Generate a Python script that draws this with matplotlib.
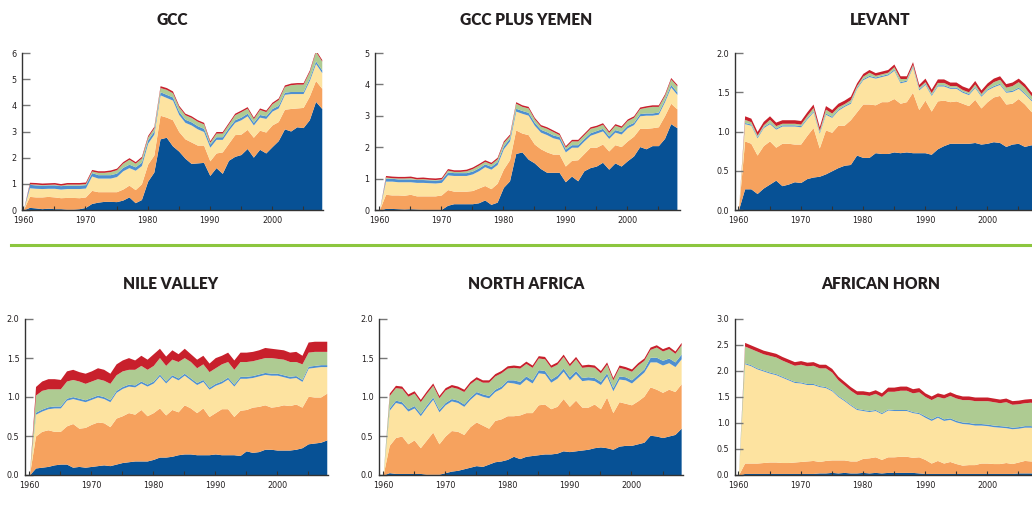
import matplotlib
matplotlib.use("Agg")
import matplotlib.pyplot as plt
from matplotlib.ticker import MultipleLocator, FixedLocator

W, H = 1032, 505
years = list(range(1960, 2009))

# ---------------- data (layer values, 1960..2008) ----------------
gcc_blue = [0, 0.10,0.08,0.05,0.07,0.05,0.05,0.03,0.03,0.05,0.10,
            0.25,0.30,0.33,0.33,0.32,0.38,0.50,0.28,0.40,1.10,
            1.45,2.72,2.78,2.45,2.25,1.98,1.78,1.80,1.82,1.32,
            1.62,1.40,1.90,2.05,2.12,2.35,2.02,2.32,2.18,2.42,
            2.65,3.10,3.02,3.18,3.15,3.45,4.15,3.88]
gcc_orange = [0, 0.42,0.42,0.45,0.45,0.45,0.42,0.45,0.45,0.42,0.40,
              0.50,0.40,0.37,0.37,0.38,0.42,0.45,0.50,0.60,0.65,
              0.65,0.90,0.77,1.00,0.75,0.74,0.82,0.68,0.66,0.56,
              0.56,0.82,0.65,0.83,0.78,0.73,0.76,0.73,0.80,0.83,
              0.73,0.75,0.86,0.72,0.77,0.90,0.80,0.77]
gcc_yellow = [0, 0.33,0.33,0.32,0.31,0.33,0.33,0.34,0.34,0.35,0.34,
              0.55,0.52,0.52,0.52,0.58,0.70,0.67,0.74,0.70,0.80,
              0.80,0.78,0.75,0.75,0.65,0.63,0.65,0.62,0.52,0.52,
              0.52,0.48,0.50,0.47,0.55,0.52,0.47,0.50,0.52,0.53,
              0.52,0.57,0.57,0.55,0.53,0.60,0.65,0.60]
gcc_lblue = [0, 0.13,0.13,0.13,0.13,0.13,0.13,0.13,0.13,0.13,0.13,
             0.13,0.13,0.13,0.13,0.13,0.13,0.13,0.13,0.13,0.13,
             0.12,0.12,0.12,0.12,0.12,0.12,0.12,0.12,0.12,0.12,
             0.10,0.10,0.10,0.10,0.10,0.10,0.10,0.10,0.10,0.10,
             0.10,0.08,0.08,0.08,0.08,0.09,0.10,0.10]
gcc_green = [0, 0.02,0.03,0.02,0.02,0.03,0.02,0.04,0.04,0.04,0.04,
             0.06,0.09,0.09,0.12,0.13,0.16,0.19,0.14,0.16,0.11,
             0.12,0.16,0.19,0.16,0.17,0.17,0.17,0.17,0.17,0.07,
             0.14,0.14,0.14,0.19,0.21,0.19,0.14,0.19,0.16,0.18,
             0.22,0.22,0.26,0.28,0.28,0.25,0.36,0.34]
gcc_red = [0, 0.06,0.06,0.06,0.06,0.06,0.06,0.06,0.06,0.06,0.06,
           0.06,0.06,0.06,0.06,0.06,0.06,0.06,0.06,0.06,0.06,
           0.06,0.07,0.07,0.07,0.06,0.06,0.06,0.06,0.06,0.06,
           0.06,0.06,0.06,0.06,0.06,0.06,0.06,0.06,0.06,0.06,
           0.06,0.06,0.06,0.06,0.06,0.06,0.06,0.06]

gy_blue = [0, 0.05,0.05,0.04,0.03,0.04,0.03,0.02,0.02,0.02,0.02,
           0.15,0.20,0.20,0.20,0.20,0.23,0.32,0.18,0.25,0.72,
           0.93,1.80,1.85,1.62,1.50,1.32,1.20,1.20,1.20,0.90,
           1.08,0.93,1.25,1.35,1.40,1.52,1.30,1.50,1.40,1.57,
           1.72,2.02,1.95,2.05,2.05,2.28,2.75,2.62]
gy_orange = [0, 0.45,0.43,0.44,0.44,0.46,0.42,0.43,0.43,0.43,0.46,
             0.50,0.40,0.40,0.40,0.42,0.47,0.46,0.50,0.60,0.58,
             0.67,0.75,0.60,0.78,0.60,0.63,0.65,0.58,0.58,0.50,
             0.50,0.67,0.55,0.65,0.60,0.58,0.58,0.58,0.62,0.63,
             0.63,0.58,0.65,0.57,0.60,0.72,0.65,0.60]
gy_yellow = [0, 0.42,0.44,0.42,0.43,0.40,0.43,0.43,0.42,0.41,0.40,
             0.47,0.50,0.50,0.50,0.53,0.55,0.60,0.62,0.60,0.65,
             0.60,0.60,0.63,0.62,0.60,0.53,0.55,0.52,0.47,0.45,
             0.42,0.40,0.40,0.38,0.45,0.42,0.40,0.40,0.40,0.42,
             0.37,0.40,0.42,0.40,0.40,0.45,0.52,0.46]
gy_lblue = [0, 0.09,0.09,0.09,0.09,0.09,0.09,0.09,0.09,0.09,0.09,
            0.09,0.09,0.09,0.09,0.09,0.09,0.09,0.09,0.09,0.09,
            0.09,0.09,0.09,0.09,0.09,0.09,0.09,0.09,0.09,0.09,
            0.08,0.08,0.08,0.08,0.08,0.08,0.08,0.08,0.08,0.08,
            0.07,0.07,0.07,0.07,0.07,0.07,0.08,0.08]
gy_green = [0, 0.04,0.02,0.03,0.03,0.04,0.02,0.03,0.02,0.02,0.02,
            0.06,0.04,0.04,0.06,0.08,0.09,0.08,0.08,0.09,0.11,
            0.08,0.16,0.13,0.14,0.11,0.10,0.11,0.11,0.06,0.06,
            0.12,0.12,0.12,0.14,0.12,0.13,0.11,0.14,0.13,0.15,
            0.16,0.16,0.18,0.21,0.18,0.13,0.17,0.19]
gy_red = [0, 0.05,0.05,0.05,0.05,0.05,0.05,0.05,0.05,0.05,0.05,
          0.05,0.05,0.05,0.05,0.05,0.05,0.05,0.05,0.05,0.05,
          0.05,0.05,0.05,0.05,0.05,0.05,0.05,0.05,0.05,0.05,
          0.05,0.05,0.05,0.05,0.05,0.05,0.05,0.05,0.05,0.05,
          0.05,0.05,0.05,0.05,0.05,0.05,0.05,0.05]

lev_blue = [0, 0.27,0.27,0.21,0.28,0.33,0.38,0.31,0.33,0.36,0.35,
            0.40,0.42,0.43,0.46,0.50,0.54,0.57,0.58,0.70,0.67,
            0.67,0.73,0.72,0.72,0.74,0.73,0.74,0.73,0.73,0.73,
            0.71,0.78,0.82,0.85,0.85,0.85,0.85,0.86,0.84,0.85,
            0.87,0.86,0.81,0.84,0.85,0.81,0.83,0.83]
lev_orange = [0, 0.61,0.58,0.49,0.54,0.55,0.42,0.54,0.52,0.48,0.49,
              0.55,0.63,0.36,0.56,0.49,0.54,0.51,0.57,0.55,0.68,
              0.68,0.61,0.66,0.66,0.68,0.63,0.64,0.77,0.55,0.67,
              0.55,0.61,0.58,0.53,0.54,0.51,0.48,0.55,0.46,0.53,
              0.57,0.60,0.54,0.52,0.57,0.54,0.43,0.37]
lev_yellow = [0, 0.22,0.23,0.22,0.23,0.22,0.23,0.22,0.22,0.23,0.22,
              0.21,0.20,0.19,0.20,0.19,0.19,0.24,0.21,0.30,0.31,
              0.35,0.34,0.32,0.34,0.36,0.26,0.26,0.32,0.25,0.20,
              0.20,0.19,0.18,0.17,0.16,0.14,0.14,0.15,0.15,0.15,
              0.13,0.14,0.15,0.15,0.13,0.13,0.14,0.13]
lev_lblue = [0, 0.015,0.015,0.015,0.015,0.015,0.015,0.015,0.015,0.015,0.015,
             0.015,0.015,0.015,0.015,0.015,0.015,0.015,0.015,0.015,0.015,
             0.015,0.015,0.015,0.015,0.015,0.015,0.015,0.015,0.015,0.015,
             0.015,0.015,0.015,0.015,0.015,0.015,0.015,0.015,0.015,0.015,
             0.015,0.015,0.015,0.015,0.015,0.015,0.015,0.015]
lev_green = [0, 0.04,0.03,0.02,0.02,0.04,0.03,0.02,0.02,0.02,0.02,
             0.03,0.04,0.02,0.05,0.04,0.03,0.02,0.03,0.02,0.03,
             0.04,0.02,0.02,0.02,0.03,0.04,0.02,0.02,0.02,0.02,
             0.02,0.03,0.03,0.02,0.02,0.02,0.02,0.03,0.02,0.03,
             0.05,0.05,0.05,0.06,0.07,0.07,0.05,0.05]
lev_red = [0, 0.045,0.045,0.045,0.045,0.045,0.045,0.045,0.045,0.045,0.045,
           0.045,0.045,0.045,0.045,0.045,0.045,0.045,0.045,0.035,0.035,
           0.035,0.035,0.035,0.035,0.035,0.035,0.035,0.035,0.035,0.045,
           0.045,0.045,0.045,0.045,0.045,0.045,0.045,0.045,0.045,0.045,
           0.045,0.045,0.045,0.045,0.045,0.045,0.045,0.045]

nile_blue = [0, 0.09,0.10,0.11,0.13,0.14,0.14,0.10,0.11,0.10,0.11,
             0.12,0.13,0.12,0.14,0.16,0.17,0.18,0.18,0.18,0.20,
             0.23,0.23,0.24,0.26,0.27,0.27,0.26,0.26,0.26,0.27,
             0.26,0.26,0.26,0.25,0.31,0.29,0.30,0.33,0.33,0.32,
             0.32,0.32,0.33,0.35,0.40,0.41,0.42,0.45]
nile_orange = [0, 0.41,0.46,0.47,0.43,0.42,0.49,0.56,0.49,0.51,0.54,
               0.56,0.54,0.50,0.59,0.60,0.63,0.60,0.66,0.58,0.60,
               0.63,0.54,0.60,0.55,0.63,0.59,0.54,0.60,0.49,0.53,
               0.59,0.59,0.49,0.58,0.53,0.58,0.58,0.57,0.54,0.56,
               0.58,0.57,0.58,0.52,0.61,0.59,0.58,0.60]
nile_yellow = [0, 0.28,0.26,0.27,0.30,0.30,0.33,0.32,0.36,0.33,0.32,
               0.32,0.31,0.32,0.33,0.35,0.34,0.35,0.34,0.38,0.38,
               0.41,0.41,0.42,0.41,0.38,0.36,0.36,0.34,0.35,0.35,
               0.33,0.38,0.39,0.41,0.40,0.38,0.39,0.39,0.41,0.40,
               0.36,0.35,0.34,0.33,0.36,0.38,0.39,0.34]
nile_lblue = [0, 0.025,0.025,0.025,0.025,0.025,0.025,0.025,0.025,0.025,0.025,
              0.025,0.025,0.025,0.025,0.025,0.025,0.025,0.025,0.025,0.025,
              0.025,0.025,0.025,0.025,0.025,0.025,0.025,0.025,0.025,0.025,
              0.025,0.025,0.025,0.025,0.025,0.025,0.025,0.025,0.025,0.025,
              0.025,0.025,0.025,0.025,0.025,0.025,0.025,0.025]
nile_green = [0, 0.22,0.24,0.23,0.22,0.22,0.22,0.22,0.22,0.21,0.21,
              0.21,0.21,0.21,0.20,0.20,0.19,0.20,0.20,0.19,0.20,
              0.21,0.20,0.20,0.21,0.20,0.21,0.19,0.20,0.20,0.20,
              0.22,0.20,0.19,0.19,0.19,0.19,0.19,0.19,0.20,0.19,
              0.20,0.19,0.18,0.20,0.18,0.18,0.17,0.17]
nile_red = [0, 0.11,0.12,0.13,0.13,0.12,0.13,0.13,0.12,0.13,0.13,
            0.14,0.14,0.13,0.14,0.14,0.15,0.12,0.13,0.13,0.15,
            0.12,0.12,0.12,0.10,0.12,0.10,0.11,0.11,0.11,0.13,
            0.11,0.12,0.12,0.12,0.12,0.12,0.12,0.13,0.12,0.12,
            0.12,0.12,0.13,0.11,0.13,0.13,0.13,0.13]

na_blue = [0, 0.03,0.02,0.02,0.02,0.02,0.02,0.01,0.01,0.01,0.03,
           0.05,0.06,0.08,0.10,0.12,0.11,0.14,0.17,0.18,0.20,
           0.24,0.21,0.24,0.25,0.26,0.27,0.27,0.28,0.31,0.30,
           0.31,0.32,0.33,0.35,0.36,0.35,0.33,0.37,0.38,0.38,
           0.40,0.42,0.51,0.50,0.48,0.50,0.52,0.60]
na_orange = [0, 0.35,0.46,0.48,0.38,0.43,0.33,0.44,0.54,0.39,0.47,
             0.52,0.50,0.44,0.52,0.56,0.53,0.46,0.53,0.54,0.56,
             0.52,0.56,0.56,0.55,0.64,0.64,0.58,0.60,0.67,0.58,
             0.65,0.55,0.54,0.56,0.49,0.65,0.47,0.57,0.54,0.52,
             0.55,0.59,0.62,0.60,0.58,0.60,0.55,0.57]
na_yellow = [0, 0.45,0.45,0.41,0.42,0.41,0.41,0.42,0.42,0.41,0.40,
             0.38,0.37,0.36,0.35,0.36,0.37,0.39,0.37,0.39,0.43,
             0.42,0.39,0.43,0.38,0.41,0.39,0.34,0.36,0.35,0.34,
             0.34,0.34,0.35,0.30,0.31,0.27,0.28,0.29,0.30,0.28,
             0.30,0.31,0.32,0.35,0.35,0.34,0.32,0.32]
na_lblue = [0, 0.03,0.03,0.03,0.03,0.03,0.03,0.03,0.03,0.03,0.03,
            0.03,0.03,0.03,0.03,0.03,0.03,0.03,0.03,0.03,0.03,
            0.04,0.04,0.04,0.04,0.04,0.04,0.04,0.04,0.04,0.04,
            0.04,0.04,0.04,0.04,0.04,0.04,0.04,0.04,0.04,0.04,
            0.04,0.04,0.06,0.06,0.06,0.06,0.06,0.06]
na_green = [0, 0.16,0.16,0.17,0.16,0.16,0.15,0.15,0.15,0.15,0.16,
            0.15,0.15,0.16,0.17,0.16,0.15,0.17,0.17,0.17,0.15,
            0.16,0.17,0.16,0.16,0.15,0.15,0.15,0.14,0.15,0.14,
            0.15,0.13,0.13,0.13,0.11,0.11,0.10,0.11,0.10,0.11,
            0.12,0.11,0.10,0.13,0.12,0.12,0.11,0.12]
na_red = [0, 0.03,0.03,0.03,0.03,0.03,0.03,0.03,0.03,0.03,0.03,
          0.03,0.03,0.03,0.03,0.03,0.03,0.03,0.03,0.03,0.03,
          0.03,0.03,0.03,0.03,0.03,0.03,0.03,0.03,0.03,0.03,
          0.03,0.03,0.03,0.03,0.03,0.03,0.03,0.03,0.03,0.03,
          0.03,0.03,0.03,0.03,0.03,0.03,0.03,0.03]

ah_blue = [0, 0.03,0.03,0.03,0.03,0.03,0.03,0.03,0.03,0.03,0.03,
           0.03,0.03,0.04,0.04,0.05,0.04,0.05,0.04,0.04,0.05,
           0.04,0.05,0.04,0.05,0.05,0.05,0.05,0.05,0.04,0.03,
           0.03,0.03,0.03,0.03,0.03,0.03,0.03,0.03,0.03,0.03,
           0.03,0.03,0.03,0.03,0.04,0.04,0.04,0.04]
ah_orange = [0, 0.20,0.20,0.20,0.21,0.22,0.22,0.21,0.21,0.22,0.23,
             0.24,0.25,0.22,0.24,0.24,0.25,0.24,0.23,0.23,0.27,
             0.29,0.30,0.26,0.30,0.30,0.31,0.31,0.29,0.31,0.27,
             0.20,0.25,0.20,0.23,0.19,0.16,0.17,0.17,0.20,0.20,
             0.19,0.19,0.21,0.19,0.21,0.24,0.23,0.22]
ah_yellow = [0, 1.91,1.87,1.81,1.76,1.71,1.68,1.64,1.59,1.53,1.51,
             1.47,1.46,1.44,1.40,1.33,1.22,1.14,1.07,0.99,0.92,
             0.89,0.89,0.88,0.90,0.89,0.88,0.88,0.86,0.83,0.81,
             0.82,0.83,0.82,0.81,0.80,0.80,0.78,0.76,0.73,0.72,
             0.71,0.70,0.67,0.67,0.65,0.64,0.65,0.63]
ah_lblue = [0, 0.02,0.02,0.02,0.02,0.02,0.02,0.02,0.02,0.02,0.02,
            0.02,0.02,0.02,0.02,0.02,0.02,0.02,0.02,0.02,0.02,
            0.02,0.02,0.02,0.02,0.02,0.02,0.02,0.02,0.02,0.03,
            0.03,0.03,0.03,0.03,0.03,0.03,0.03,0.03,0.03,0.03,
            0.03,0.03,0.03,0.03,0.03,0.03,0.03,0.03]
ah_green = [0, 0.32,0.31,0.32,0.31,0.32,0.32,0.31,0.31,0.31,0.34,
            0.34,0.35,0.34,0.36,0.34,0.30,0.28,0.27,0.27,0.29,
            0.29,0.31,0.31,0.34,0.35,0.37,0.37,0.36,0.40,0.37,
            0.37,0.37,0.40,0.43,0.43,0.43,0.44,0.44,0.44,0.45,
            0.45,0.44,0.47,0.44,0.44,0.44,0.45,0.44]
ah_red = [0, 0.07,0.07,0.07,0.07,0.07,0.07,0.07,0.07,0.07,0.07,
          0.07,0.07,0.07,0.07,0.07,0.07,0.07,0.07,0.07,0.07,
          0.07,0.07,0.07,0.08,0.08,0.08,0.08,0.08,0.08,0.07,
          0.07,0.07,0.07,0.07,0.07,0.07,0.07,0.07,0.07,0.07,
          0.07,0.07,0.07,0.07,0.07,0.07,0.07,0.07]

titles = ["GCC", "GCC PLUS YEMEN", "LEVANT", "NILE VALLEY", "NORTH AFRICA", "AFRICAN HORN"]
panel_series = [
    [gcc_blue, gcc_orange, gcc_yellow, gcc_lblue, gcc_green, gcc_red],
    [gy_blue, gy_orange, gy_yellow, gy_lblue, gy_green, gy_red],
    [lev_blue, lev_orange, lev_yellow, lev_lblue, lev_green, lev_red],
    [nile_blue, nile_orange, nile_yellow, nile_lblue, nile_green, nile_red],
    [na_blue, na_orange, na_yellow, na_lblue, na_green, na_red],
    [ah_blue, ah_orange, ah_yellow, ah_lblue, ah_green, ah_red],
]
ymax = [6, 5, 2.0, 2.0, 2.0, 3.0]
ystep = [1, 1, 0.5, 0.5, 0.5, 0.5]
ylabel_fmt = ["{:.0f}", "{:.0f}", "{:.1f}", "{:.1f}", "{:.1f}", "{:.1f}"]
xtick_labels = ["1960", "1970", "1980", "1990", "2000"]

colors = ["#075195", "#f6a25e", "#fde3a0", "#4e8fd0", "#aecb92", "#c8202c"]

# layout in pixels: (left spine x, right end x, top y, bottom y, xmin, xmax)
boxes = [
    (22, 323, 53, 210, 1959.8, 2008.2),
    (375, 680, 53, 210, 1959.3, 2008.5),
    (735, 1040, 53, 210, 1959.45, 2008.5),
    (25, 328, 319, 475, 1959.3, 2008.2),
    (379, 683, 319, 475, 1959.35, 2008.3),
    (735, 1040, 319, 475, 1959.45, 2008.5),
]
title_pos = [(172, 20), (526, 20), (880, 20), (171, 284), (526, 284), (881, 284)]

fig = plt.figure(figsize=(W / 100, H / 100), dpi=100)

for i in range(6):
    l, r, t, b, x0, x1 = boxes[i]
    ax = fig.add_axes([l / W, (H - b) / H, (r - l) / W, (b - t) / H])
    base = [0.0] * len(years)
    for ser, c in zip(panel_series[i], colors):
        top = [a + v for a, v in zip(base, ser)]
        ax.fill_between(years, base, top, color=c, lw=0)
        base = top
    ax.set_xlim(x0, x1)
    ax.set_ylim(0, ymax[i])
    for s in ("top", "right"):
        ax.spines[s].set_visible(False)
    for s in ("left", "bottom"):
        ax.spines[s].set_color("#333333")
        ax.spines[s].set_linewidth(1.0)
    ax.xaxis.set_major_locator(FixedLocator([1960, 1970, 1980, 1990, 2000]))
    ax.set_xticklabels(xtick_labels)
    ax.xaxis.set_minor_locator(MultipleLocator(5))
    ax.tick_params(axis="x", which="both", direction="in", length=3, width=0.8,
                   color="#333333", pad=4)
    n = int(round(ymax[i] / ystep[i]))
    yt = [k * ystep[i] for k in range(n + 1)]
    ax.set_yticks(yt)
    ax.set_yticklabels([ylabel_fmt[i].format(v) for v in yt])
    ax.tick_params(axis="y", direction="in", length=6, width=1.0,
                   color="#777777", pad=4)
    for lab in ax.get_xticklabels() + ax.get_yticklabels():
        lab.set_fontfamily("DejaVu Sans")
        lab.set_fontstretch("condensed")
        lab.set_fontsize(6.5)
        lab.set_color("#231f20")
    ax.set_facecolor("none")
    tx, ty = title_pos[i]
    fig.text(tx / W, 1 - ty / H, titles[i], ha="center", va="center",
             fontsize=11.2, fontweight="heavy", family=["Lato", "DejaVu Sans"],
             color="#231f20")

# green separator
fig.add_artist(plt.Line2D([11 / W, 1.0], [1 - 245 / H, 1 - 245 / H],
                          color="#8cc63f", lw=2.2, transform=fig.transFigure))

fig.savefig("out.png", dpi=100)
